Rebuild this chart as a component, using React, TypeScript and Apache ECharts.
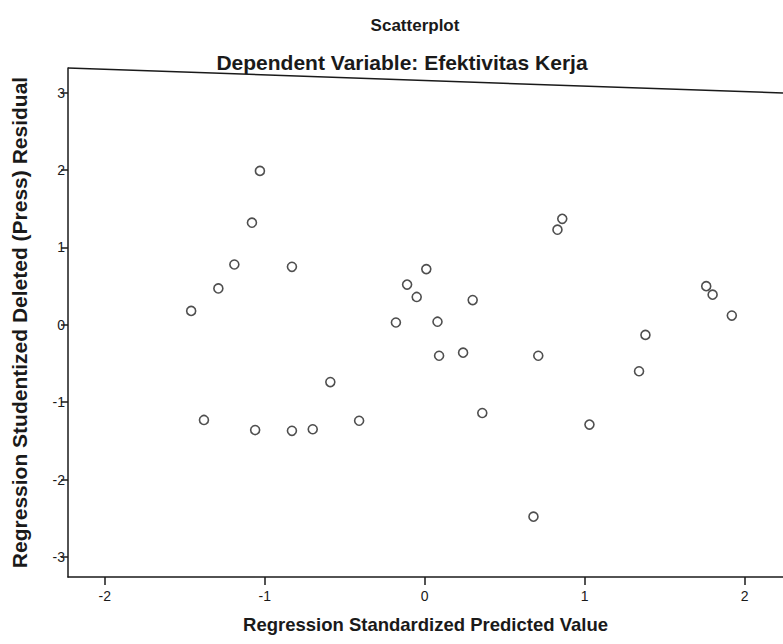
import React, { useEffect, useRef } from "react";
import * as echarts from "echarts";

const titleText = "Scatterplot";
const subtitleText = "Dependent Variable: Efektivitas Kerja";
const xAxisTitle = "Regression Standardized Predicted Value";
const yAxisTitle = "Regression Studentized Deleted (Press) Residual";

const xTicks = [-2, -1, 0, 1, 2];
const yTicks = [-3, -2, -1, 0, 1, 2, 3];

const predicted = [
  -1.46, -1.38, -1.29, -1.19, -1.08, -1.03, -1.06, -0.83, -0.83, -0.7, -0.59,
  -0.41, -0.18, -0.11, -0.05, 0.01, 0.08, 0.09, 0.24, 0.3, 0.36, 0.68, 0.71,
  0.83, 0.86, 1.03, 1.34, 1.38, 1.76, 1.8, 1.92,
];
const residual = [
  0.18, -1.23, 0.47, 0.78, 1.32, 1.99, -1.36, 0.75, -1.37, -1.35, -0.74,
  -1.24, 0.03, 0.52, 0.36, 0.72, 0.04, -0.4, -0.36, 0.32, -1.14, -2.48, -0.4,
  1.23, 1.37, -1.29, -0.6, -0.13, 0.5, 0.39, 0.12,
];

const FONT = "'Liberation Sans', Arial, sans-serif";
const INK = "#1a1a1a";

export default function App() {
  const ref = useRef<HTMLDivElement>(null);
  useEffect(() => {
    if (!ref.current) return;
    const chart = echarts.init(ref.current, undefined, { renderer: "svg" });
    const data = predicted.map((x, i) => [x, residual[i]]);
    chart.setOption({
      animation: false,
      backgroundColor: "#ffffff",
      title: [
        {
          text: titleText,
          left: 410,
          textAlign: "center",
          top: 12,
          textStyle: { fontFamily: FONT, fontSize: 17, fontWeight: "bold", color: INK },
        },
        {
          text: subtitleText,
          left: 397,
          textAlign: "center",
          top: 47,
          textStyle: { fontFamily: FONT, fontSize: 21, fontWeight: "bold", color: INK },
        },
      ],
      grid: { left: 68, right: 0, top: 68, height: 509, containLabel: false },
      xAxis: {
        type: "value",
        min: -2.23,
        max: 2.24,
        name: xAxisTitle,
        nameLocation: "middle",
        nameGap: 38,
        nameTextStyle: { fontFamily: FONT, fontSize: 18.5, fontWeight: "bold", color: INK },
        axisLine: { show: true, onZero: false, lineStyle: { color: INK, width: 1.5 } },
        axisTick: { show: true, customValues: xTicks, length: 8, lineStyle: { color: INK, width: 1.5 } },
        axisLabel: {
          customValues: xTicks,
          fontFamily: FONT,
          fontSize: 14,
          color: INK,
          margin: 12,
        },
        splitLine: { show: false },
      },
      yAxis: {
        type: "value",
        min: -3.26,
        max: 3.32,
        name: yAxisTitle,
        nameLocation: "middle",
        nameGap: 38,
        nameTextStyle: { fontFamily: FONT, fontSize: 21, fontWeight: "bold", color: INK },
        axisLine: { show: true, onZero: false, lineStyle: { color: INK, width: 1.5 } },
        axisTick: { show: true, customValues: yTicks, length: 7, lineStyle: { color: INK, width: 1.5 } },
        axisLabel: {
          customValues: yTicks,
          fontFamily: FONT,
          fontSize: 14,
          color: INK,
          margin: 3,
        },
        splitLine: { show: false },
      },
      graphic: [
        {
          type: "line",
          shape: { x1: 68, y1: 68, x2: 783, y2: 93 },
          style: { stroke: INK, lineWidth: 1.5 },
          silent: true,
        },
      ],
      series: [
        {
          type: "scatter",
          data,
          symbol: "circle",
          symbolSize: 9,
          itemStyle: { color: "#ffffff", borderColor: "#222", borderWidth: 1.6 },
        },
      ],
    });
    return () => chart.dispose();
  }, []);
  return (
    <div
      ref={ref}
      style={{ position: "absolute", left: 0, top: 0, width: 783, height: 644 }}
    />
  );
}
